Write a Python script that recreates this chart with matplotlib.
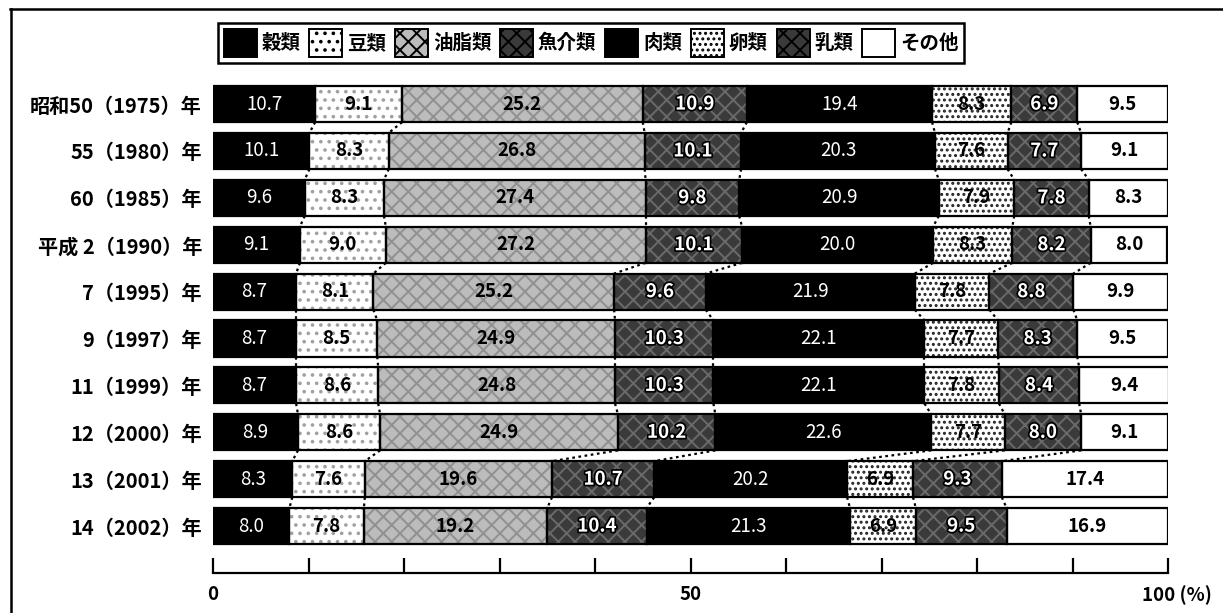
import matplotlib
matplotlib.use("Agg")
import matplotlib.pyplot as plt
import matplotlib.patheffects as pe
from matplotlib.patches import Patch
from matplotlib.lines import Line2D
import numpy as np

plt.rcParams['font.family'] = ['Noto Sans CJK JP', 'DejaVu Sans']
plt.rcParams['hatch.linewidth'] = 1.4

years = ['昭和50（1975）年', '55（1980）年', '60（1985）年', '平成 2（1990）年',
         '7（1995）年', '9（1997）年', '11（1999）年', '12（2000）年',
         '13（2001）年', '14（2002）年']
groups = ['穀類', '豆類', '油脂類', '魚介類', '肉類', '卵類', '乳類', 'その他']

grains = [10.7, 10.1, 9.6, 9.1, 8.7, 8.7, 8.7, 8.9, 8.3, 8.0]
beans = [9.1, 8.3, 8.3, 9.0, 8.1, 8.5, 8.6, 8.6, 7.6, 7.8]
oils = [25.2, 26.8, 27.4, 27.2, 25.2, 24.9, 24.8, 24.9, 19.6, 19.2]
fish = [10.9, 10.1, 9.8, 10.1, 9.6, 10.3, 10.3, 10.2, 10.7, 10.4]
meat = [19.4, 20.3, 20.9, 20.0, 21.9, 22.1, 22.1, 22.6, 20.2, 21.3]
eggs = [8.3, 7.6, 7.9, 8.3, 7.8, 7.7, 7.8, 7.7, 6.9, 6.9]
milk = [6.9, 7.7, 7.8, 8.2, 8.8, 8.3, 8.4, 8.0, 9.3, 9.5]
other = [9.5, 9.1, 8.3, 8.0, 9.9, 9.5, 9.4, 9.1, 17.4, 16.9]

series = [grains, beans, oils, fish, meat, eggs, milk, other]

# fill, hatch, hatch colour, label colour, label style
styles = [
    ('black', None, None, 'white', 'plain'),
    ('white', '..', '#a0a0a0', 'black', 'bold'),
    ('#bcbcbc', 'xx', '#909090', 'black', 'bold'),
    ('#3a3a3a', 'xx', '#6a6a6a', 'white', 'outline'),
    ('black', None, None, 'white', 'plain'),
    ('white', '...', '#222222', 'black', 'bold'),
    ('#3a3a3a', 'xx', '#6a6a6a', 'white', 'outline'),
    ('white', None, None, 'black', 'bold'),
]

FS = 13.5

W, H = 1223, 613
fig = plt.figure(figsize=(W / 100, H / 100), dpi=100)
ax = fig.add_axes([213 / W, 1 - 573 / H, 955 / W, (573 - 60) / H])

data = np.array(series)
y = np.arange(len(years))
h = 0.77
left = np.zeros(len(years))
bounds = []
for vals, (fc, hatch, hc, tc, ts) in zip(data, styles):
    ax.barh(y, vals, left=left, height=h, color=fc, edgecolor=hc if hatch else fc,
            hatch=hatch, linewidth=0, zorder=2)
    ax.barh(y, vals, left=left, height=h, fill=False, edgecolor='black',
            linewidth=1.6, zorder=3)
    for yi, (l, v) in enumerate(zip(left, vals)):
        kw = dict(ha='center', va='center', fontsize=FS, color=tc, zorder=4)
        kw['fontweight'] = 'normal' if ts == 'plain' else 'bold'
        if ts == 'outline':
            kw['path_effects'] = [pe.withStroke(linewidth=2.5, foreground='black')]
        ax.text(l + v / 2, yi, f'{v:.1f}', **kw)
    left = left + vals
    bounds.append(left.copy())

# dotted links between neighbouring bars
for b in bounds[:-1]:
    for i in range(len(years) - 1):
        ax.plot([b[i], b[i + 1]], [i + h / 2, i + 1 - h / 2], color='black',
                linestyle=(0, (1.2, 1.6)), linewidth=1.6, zorder=1)

ax.set_xlim(0, 100)
ax.set_ylim(10.0, -0.94)
ax.set_yticks(y)
ax.set_yticklabels(years, fontsize=14.5, fontweight='bold')
ax.tick_params(axis='y', length=0, pad=8)
ax.set_xticks(np.arange(0, 101, 10))
ax.set_xticklabels(['0' if t == 0 else '50' if t == 50 else '' for t in range(0, 101, 10)],
                   fontsize=FS, fontweight='bold')
ax.tick_params(axis='x', direction='in', length=11, width=1.6, pad=9)
ax.text(97.3, -0.0245, '100 (%)', transform=ax.get_xaxis_transform(), ha='left', va='top',
        fontsize=FS, fontweight='bold')
for s in ['top', 'right', 'left']:
    ax.spines[s].set_visible(False)
ax.spines['bottom'].set_linewidth(1.6)

handles = []
for (fc, hatch, hc, tc, ts) in styles:
    handles.append(Patch(facecolor=fc, edgecolor='black', hatch=hatch, linewidth=1.4))
leg = fig.legend(handles, groups, loc='upper left', bbox_to_anchor=(208 / W, 1 - 13 / H),
                 ncol=8, prop={'weight': 'bold', 'size': 14},
                 handlelength=1.7, handleheight=1.85, handletextpad=0.25,
                 columnspacing=0.45, borderpad=0.3, fancybox=False,
                 edgecolor='black', framealpha=1)
leg.get_frame().set_linewidth(1.8)

# outer frame (top and left edges)
fig.add_artist(Line2D([10 / W, 1], [1 - 9 / H, 1 - 9 / H], color='black', linewidth=1.8))
fig.add_artist(Line2D([11 / W, 11 / W], [0, 1 - 9 / H], color='black', linewidth=1.8))

fig.savefig('out.png', dpi=100)
